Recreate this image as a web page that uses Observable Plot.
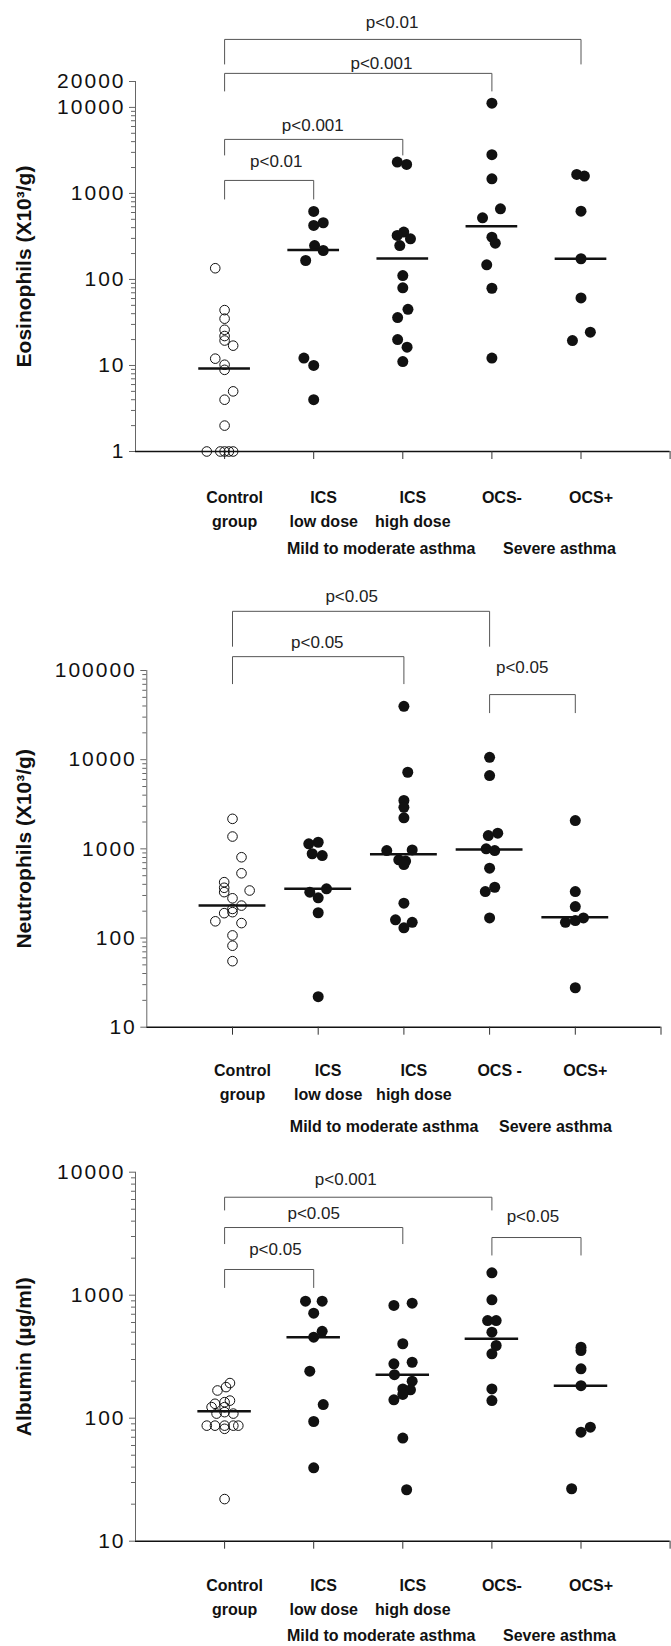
<!DOCTYPE html>
<html><head><meta charset="utf-8">
<script src="https://cdn.jsdelivr.net/npm/d3@7"></script>
<script src="https://cdn.jsdelivr.net/npm/@observablehq/plot@0.6"></script>
<style>
body{margin:0;background:#fff;}
#chart{position:relative;width:671px;height:1646px;background:#fff;overflow:hidden;}
#chart svg{position:absolute;left:0;overflow:visible;}
</style></head><body><div id="chart"></div>
<script>
// ---------- category labels ----------
const cats1 = ["Control\ngroup", "ICS\nlow dose", "ICS\nhigh dose", "OCS-", "OCS+"];
const cats2 = ["Control\ngroup", "ICS\nlow dose", "ICS\nhigh dose", "OCS -", "OCS+"];
const cats3 = ["Control\ngroup", "ICS\nlow dose", "ICS\nhigh dose", "OCS-", "OCS+"];
const groupNames = ["Mild to moderate asthma", "Severe asthma"];
const groupSpans = [[2, 3], [4, 5]];

// ---------- Eosinophils (X10^3/g) ----------
const eosValues = [
  [135, 44, 35, 26, 22, 19.5, 17, 12, 10.2, 8.9, 5, 4, 2, 1, 1, 1, 1, 1],
  [618, 456, 424, 248, 217, 166, 12.2, 10, 4],
  [2313, 2173, 355, 325, 297, 248, 111, 80, 45, 36, 20, 16.3, 11.1],
  [11200, 2820, 1480, 663, 521, 310, 264, 148, 79, 12.2],
  [1663, 1590, 622, 174, 61, 24.4, 19.5]
];
const eosJitter = [
  [-0.105, 0, 0, 0, 0, 0, 0.096, -0.105, 0, 0, 0.096, 0, 0, -0.2, -0.048, 0, 0.048, 0.096],
  [0, 0.107, 0, 0.01, 0.107, -0.09, -0.11, 0, 0],
  [-0.062, 0.043, 0.011, -0.063, 0.086, -0.034, 0, 0, 0.058, -0.058, -0.058, 0.048, 0],
  [0, 0, 0, 0.096, -0.105, 0, 0.038, -0.058, 0, 0],
  [-0.048, 0.038, 0, 0, 0, 0.105, -0.096]
];
const eosMedians = [9.2, 220, 175, 416, 174];
const eosTicks = [1, 10, 100, 1000, 10000, 20000];
const eosBrackets = [
  {from: 1, to: 5, top: 61700, foot: 31600, labelX: 2.88, labelAt: 97300, text: "p<0.01"},
  {from: 1, to: 4, top: 24850, foot: 15350, labelX: 2.76, labelAt: 32500, text: "p<0.001"},
  {from: 1, to: 3, top: 4246, foot: 2767, labelX: 1.99, labelAt: 6180, text: "p<0.001"},
  {from: 1, to: 2, top: 1416, foot: 851, labelX: 1.58, labelAt: 2355, text: "p<0.01"}
];

// ---------- Neutrophils (X10^3/g) ----------
const neuValues = [
  [2170, 1374, 805, 532, 423, 366, 327, 341, 279, 231, 212, 195, 190, 154, 147, 107, 82, 55],
  [1186, 1138, 881, 840, 356, 327, 282, 192, 22],
  [39700, 7230, 3486, 2925, 2230, 973, 957, 753, 730, 667, 246, 160, 150, 130],
  [10640, 6640, 1497, 1410, 1000, 956, 607, 371, 332, 168],
  [2075, 332, 225, 168, 157, 150, 27.7]
];
const neuJitter = [
  [0, 0, 0.105, 0.105, -0.097, -0.097, -0.097, 0.2, 0, 0.105, 0, 0, -0.097, -0.2, 0.105, 0, 0, 0],
  [0, -0.11, -0.07, 0.047, 0.097, -0.098, 0, 0, 0],
  [0, 0.045, 0, 0, 0, 0.097, -0.2, -0.06, 0.02, 0, 0, -0.098, 0.097, 0],
  [0, 0, 0.095, -0.015, -0.04, 0.06, 0, 0.06, -0.05, 0],
  [0, 0, 0, 0.095, 0, -0.115, 0]
];
const neuMedians = [231, 356, 870, 985, 171];
const neuTicks = [10, 100, 1000, 10000, 100000];
const neuBrackets = [
  {from: 1, to: 4, top: 461000, foot: 185000, labelX: 2.39, labelAt: 674000, text: "p<0.05"},
  {from: 1, to: 3, top: 143000, foot: 70400, labelX: 1.99, labelAt: 205000, text: "p<0.05"},
  {from: 4, to: 5, top: 53700, foot: 33300, labelX: 4.38, labelAt: 107800, text: "p<0.05"}
];

// ---------- Albumin (µg/ml) ----------
const albValues = [
  [193, 179, 168, 139, 135, 131, 123, 123, 112, 109, 109, 87, 87, 87, 87, 87, 82, 22],
  [894, 894, 714, 509, 456, 241, 129, 94, 39.5],
  [861, 825, 403, 285, 277, 226, 200, 173, 170, 156, 141, 69, 26.2],
  [1521, 918, 622, 622, 500, 390, 334, 173, 139],
  [378, 355, 252, 184, 84.5, 77, 26.7]
];
const albJitter = [
  [0.06, 0.016, -0.08, 0.06, 0, -0.108, -0.146, 0, 0, -0.09, 0.098, -0.2, -0.108, 0, 0.098, 0.154, 0, 0],
  [-0.092, 0.095, 0, 0.095, 0, -0.044, 0.107, 0, 0],
  [0.105, -0.1, 0, 0.105, -0.1, -0.094, 0.105, 0, 0.086, 0, -0.1, 0, 0.043],
  [0, 0, -0.048, 0.048, 0, 0.048, 0, 0, 0],
  [0, 0, 0, 0, 0.105, 0, -0.105]
];
const albMedians = [114, 456, 226, 443, 184];
const albTicks = [10, 100, 1000, 10000];
const albBrackets = [
  {from: 1, to: 4, top: 6260, foot: 4890, labelX: 2.36, labelAt: 8730, text: "p<0.001"},
  {from: 1, to: 3, top: 3550, foot: 2606, labelX: 2.0, labelAt: 4610, text: "p<0.05"},
  {from: 1, to: 2, top: 1618, foot: 1146, labelX: 1.57, labelAt: 2355, text: "p<0.05"},
  {from: 4, to: 5, top: 2944, foot: 2104, labelX: 4.46, labelAt: 4370, text: "p<0.05"}
];

// ---------- drawing ----------
function minorTicks(lo, hi) {
  const t = [];
  for (let d = lo; d < hi; d *= 10) for (let m = 2; m <= 9; m++) if (d * m < hi) t.push(d * m);
  return t;
}

function panel(cfg) {
  const rows = cfg.values.flatMap((vals, gi) => vals.map((v, k) => ({g: gi + 1, v, j: cfg.jitter[gi][k]})));
  const meds = cfg.medians.map((m, gi) => ({g: gi + 1, m}));
  const legs = cfg.brackets.flatMap(b => [{x: b.from, y1: b.top, y2: b.foot}, {x: b.to, y1: b.top, y2: b.foot}]);
  const groups = groupNames.map((name, i) => ({name, x: (groupSpans[i][0] + groupSpans[i][1]) / 2}));
  const [lo, hi] = cfg.yDomain;
  const svg = Plot.plot({
    width: 671, height: cfg.height,
    marginLeft: cfg.ml, marginRight: cfg.mr, marginTop: cfg.mt, marginBottom: cfg.mb,
    style: {fontFamily: "'Liberation Sans', Arial, Helvetica, sans-serif", background: "transparent", color: "#111", overflow: "visible"},
    x: {type: "linear", domain: [0, 6]},
    y: {type: "log", domain: cfg.yDomain},
    marks: [
      Plot.ruleX([0], {y1: lo, y2: hi, stroke: "#666", strokeWidth: 1}),
      Plot.axisY(minorTicks(lo, hi), {tickSize: 4, fill: "none", stroke: "#666", label: null}),
      Plot.axisY(cfg.yTicks, {tickSize: 6, tickPadding: 4, stroke: "#666", fill: "#111", fontSize: 21,
        tickFormat: d => String(d), label: null}),
      Plot.ruleY([lo], {x1: 0, x2: 6, stroke: "#111", strokeWidth: 1.6}),
      Plot.axisX([1, 2, 3, 4, 5, 6], {tickSize: 8, fill: "none", stroke: "#333", label: null}),
      Plot.text(cfg.cats, {x: (d, i) => i + 1, text: d => d, frameAnchor: "bottom", dy: cfg.catDy, dx: 10,
        lineAnchor: "top", lineHeight: 1.5, fontWeight: "bold", fontSize: 16, fill: "#111"}),
      Plot.text(groups, {x: "x", text: "name", frameAnchor: "bottom", dy: cfg.groupDy, dx: 23,
        lineAnchor: "middle", fontWeight: "bold", fontSize: 16, fill: "#111"}),
      Plot.text([cfg.title], {text: d => d, frameAnchor: "left", textAnchor: "middle", rotate: -90, dx: 24 - cfg.ml,
        lineAnchor: "middle", fontWeight: "bold", fontSize: 21, fill: "#111"}),
      Plot.link(cfg.brackets, {x1: "from", x2: "to", y1: "top", y2: "top", stroke: "#555", strokeWidth: 1}),
      Plot.link(legs, {x1: "x", x2: "x", y1: "y1", y2: "y2", stroke: "#555", strokeWidth: 1}),
      Plot.text(cfg.brackets, {x: "labelX", y: "labelAt", text: "text", fontSize: 17, lineAnchor: "middle",
        fill: "#222", ariaLabel: "pvalue"}),
      Plot.dot(rows.filter(d => d.g !== 1), {x: d => d.g + d.j, y: "v", r: 5.5, fill: "#111", stroke: "none"}),
      Plot.dot(rows.filter(d => d.g === 1), {x: d => d.g + d.j, y: "v", r: 4.8, fill: "none", stroke: "#111", strokeWidth: 1}),
      Plot.ruleY(meds, {y: "m", x1: d => d.g - cfg.half, x2: d => d.g + cfg.half, stroke: "#111", strokeWidth: 2.5})
    ]
  });
  d3.select(svg).selectAll('g[aria-label="y-axis tick label"]').style("letter-spacing", "2px");
  d3.select(svg).selectAll('g[aria-label="pvalue"]').style("letter-spacing", "1.5px");
  svg.style.top = cfg.top + "px";
  return svg;
}

const chart = document.getElementById("chart");
chart.appendChild(panel({
  values: eosValues, jitter: eosJitter, medians: eosMedians, brackets: eosBrackets,
  yDomain: [1, 20000], yTicks: eosTicks, cats: cats1, title: "Eosinophils (X10³/g)",
  top: 0, height: 560, ml: 135, mr: 1.4, mt: 81, mb: 109, catDy: 34, groupDy: 97, half: 0.29
}));
chart.appendChild(panel({
  values: neuValues, jitter: neuJitter, medians: neuMedians, brackets: neuBrackets,
  yDomain: [10, 100000], yTicks: neuTicks, cats: cats2, title: "Neutrophils (X10³/g)",
  top: 560, height: 580, ml: 146.3, mr: 10.5, mt: 110, mb: 113.3, catDy: 32, groupDy: 100, half: 0.39
}));
chart.appendChild(panel({
  values: albValues, jitter: albJitter, medians: albMedians, brackets: albBrackets,
  yDomain: [10, 10000], yTicks: albTicks, cats: cats3, title: "Albumin (µg/ml)",
  top: 1140, height: 506, ml: 135, mr: 1.4, mt: 31.7, mb: 105.3, catDy: 33, groupDy: 95, half: 0.3
}));
</script></body></html>
